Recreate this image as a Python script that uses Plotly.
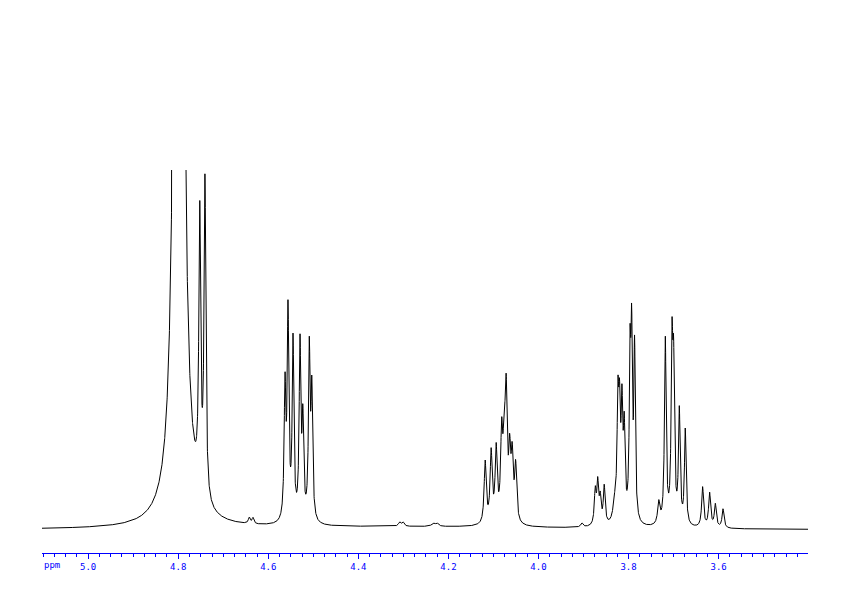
import numpy as np
import plotly.graph_objects as go

# peak table: chemical shift (ppm), intensity, half width (ppm)
shifts = [
    4.7985, 4.7522, 4.7407, 4.6422, 4.6340,
    4.5629, 4.5562, 4.5451, 4.5296, 4.5233, 4.5089, 4.5033,
    4.3084, 4.3007, 4.2340, 4.2251,
    4.1184, 4.1051, 4.0940, 4.0818, 4.0762, 4.0718, 4.0640, 4.0584, 4.0507,
    3.9036, 3.8740, 3.8685, 3.8629, 3.8540, 3.8307,
    3.8236, 3.8200, 3.8147, 3.8096, 3.7967, 3.7931, 3.7866,
    3.7329, 3.7184, 3.7035, 3.6999, 3.6873, 3.6740,
    3.6355, 3.6200, 3.6073, 3.5902,
    4.3000,
]
heights = [
    4500, 273, 316, 6, 6,
    130, 205, 178, 174, 95, 168, 125,
    4, 4, 3, 3,
    62, 70, 72, 82, 68, 118, 62, 60, 55,
    4, 33, 40, 25, 38, 18,
    110, 95, 105, 85, 150, 170, 170,
    22, 185, 165, 140, 112, 95,
    40, 34, 23, 19,
    3,
]
widths = [
    0.0045, 0.0024, 0.0024, 0.0025, 0.0025,
    0.0022, 0.0022, 0.0022, 0.0022, 0.0022, 0.0022, 0.0022,
    0.003, 0.003, 0.004, 0.004,
    0.0027, 0.0027, 0.0027, 0.0027, 0.0027, 0.0027, 0.0027, 0.0027, 0.0027,
    0.003, 0.0024, 0.0024, 0.0024, 0.0024, 0.0045,
    0.0022, 0.0022, 0.0022, 0.0022, 0.002, 0.002, 0.002,
    0.003, 0.0022, 0.0022, 0.0022, 0.0022, 0.0022,
    0.0026, 0.0026, 0.0026, 0.0026,
    0.45,
]

ppm = np.arange(3.4015, 5.1026, 0.0002)[::-1]
signal = np.zeros_like(ppm)
for c, h, w in zip(shifts, heights, widths):
    signal += h / (1 + ((ppm - c) / w) ** 2)

blue = "#0000ff"

fig = go.Figure()
fig.add_trace(go.Scatter(x=ppm, y=signal, mode="lines",
                         line=dict(color="black", width=1), hoverinfo="skip"))

# page body adds an 8px offset, margins compensate for it
fig.update_layout(
    width=842, height=596,
    margin=dict(l=34, r=42, t=162, b=51),
    paper_bgcolor="white", plot_bgcolor="white",
    showlegend=False,
    xaxis=dict(
        range=[5.1025, 3.4015], showgrid=False, zeroline=False,
        showline=True, linecolor=blue, linewidth=1,
        ticks="outside", ticklen=5, tickwidth=1, tickcolor=blue,
        tick0=0, dtick=0.2, tickformat=".1f",
        tickfont=dict(family="DejaVu Sans Mono", size=9, color=blue),
        minor=dict(dtick=0.025, tick0=0, ticks="outside", ticklen=3,
                   tickcolor=blue, tickwidth=1, showgrid=False),
    ),
    yaxis=dict(range=[-23, 360], visible=False),
    annotations=[dict(text="ppm", x=0, xref="paper", y=0, yref="paper",
                      xanchor="left", yanchor="middle", yshift=-12, showarrow=False,
                      font=dict(family="DejaVu Sans Mono", size=9, color=blue))],
)

fig.write_html("out.html")
